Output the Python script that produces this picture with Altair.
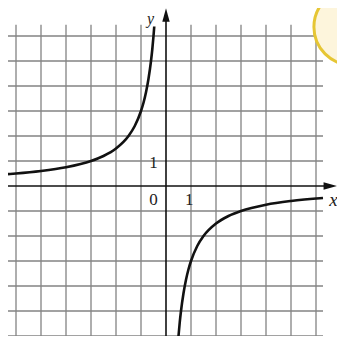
import altair as alt
import pandas as pd

# grid lines (units)
grid_x = [-6, -5, -4, -3, -2, -1, 1, 2, 3, 4, 5, 6]
grid_y = [-6, -5, -4, -3, -2, -1, 1, 2, 3, 4, 5, 6]

# hyperbola branches (y = -3/x)
left_x = [-6.32, -6.0, -5.0, -4.0, -3.0, -2.5, -2.0, -1.5, -1.25, -1.0, -0.9, -0.8, -0.7, -0.6, -0.55, -0.5, -0.47]
left_y = [0.475, 0.5, 0.6, 0.75, 1.0, 1.2, 1.5, 2.0, 2.4, 3.0, 3.33, 3.75, 4.29, 5.0, 5.45, 6.0, 6.38]
right_x = [0.46, 0.5, 0.55, 0.6, 0.7, 0.8, 0.9, 1.0, 1.25, 1.5, 2.0, 2.5, 3.0, 4.0, 5.0, 6.28]
right_y = [-6.52, -6.0, -5.45, -5.0, -4.29, -3.75, -3.33, -3.0, -2.4, -2.0, -1.5, -1.2, -1.0, -0.75, -0.6, -0.478]

labels_text = ["y", "x", "1", "0", "1"]
labels_x = [-0.62, 6.7, -0.5, -0.5, 0.93]
labels_y = [6.5, -0.55, 0.92, -0.55, -0.55]
labels_style = ["italic", "italic", "normal", "normal", "normal"]

XMIN, XMAX = -6.32, 6.84
YMIN, YMAX = -6.0, 7.12

xs = alt.Scale(domain=[XMIN, XMAX], nice=False, zero=False)
ys = alt.Scale(domain=[YMIN, YMAX], nice=False, zero=False)

vgrid = alt.Chart(pd.DataFrame({"x": grid_x, "y": [YMIN] * len(grid_x), "y2": [6.45] * len(grid_x)})).mark_rule(
    color="#838383", strokeWidth=1.3
).encode(x=alt.X("x:Q", scale=xs, axis=None), y=alt.Y("y:Q", scale=ys, axis=None), y2="y2:Q")

hgrid = alt.Chart(pd.DataFrame({"y": grid_y, "x": [XMIN] * len(grid_y), "x2": [6.28] * len(grid_y)})).mark_rule(
    color="#838383", strokeWidth=1.3
).encode(x=alt.X("x:Q", scale=xs, axis=None), x2="x2:Q", y=alt.Y("y:Q", scale=ys, axis=None))

xaxis = alt.Chart(pd.DataFrame({"x": [XMIN], "x2": [6.6], "y": [0]})).mark_rule(
    color="#111111", strokeWidth=1.6
).encode(x=alt.X("x:Q", scale=xs, axis=None), x2="x2:Q", y=alt.Y("y:Q", scale=ys, axis=None))

yaxis = alt.Chart(pd.DataFrame({"y": [YMIN], "y2": [6.8], "x": [0]})).mark_rule(
    color="#111111", strokeWidth=1.6
).encode(x=alt.X("x:Q", scale=xs, axis=None), y=alt.Y("y:Q", scale=ys, axis=None), y2="y2:Q")

xarrow = alt.Chart(pd.DataFrame({"x": [6.57], "y": [0]})).mark_point(
    shape="M-1,-0.55 L1,0 L-1,0.55 Z", filled=True, color="#111111", size=180, opacity=1
).encode(x=alt.X("x:Q", scale=xs, axis=None), y=alt.Y("y:Q", scale=ys, axis=None))

yarrow = alt.Chart(pd.DataFrame({"x": [0], "y": [6.84]})).mark_point(
    shape="M-0.55,1 L0,-1 L0.55,1 Z", filled=True, color="#111111", size=180, opacity=1
).encode(x=alt.X("x:Q", scale=xs, axis=None), y=alt.Y("y:Q", scale=ys, axis=None))

curve_df = pd.concat([
    pd.DataFrame({"x": left_x, "y": left_y, "branch": "left"}),
    pd.DataFrame({"x": right_x, "y": right_y, "branch": "right"}),
])
curve = alt.Chart(curve_df).mark_line(
    color="#111111", strokeWidth=2.6, interpolate="monotone", clip=True
).encode(
    x=alt.X("x:Q", scale=xs, axis=None),
    y=alt.Y("y:Q", scale=ys, axis=None),
    detail="branch:N",
    order="x:Q",
)

lab_df = pd.DataFrame({"t": labels_text, "x": labels_x, "y": labels_y, "s": labels_style})
labels_y_axis = alt.Chart(lab_df[lab_df.t == "y"]).mark_text(
    font="Liberation Serif", fontSize=16, fontStyle="italic", color="#222222", align="center", baseline="alphabetic"
).encode(x=alt.X("x:Q", scale=xs, axis=None), y=alt.Y("y:Q", scale=ys, axis=None), text="t:N")
labels_x_axis = alt.Chart(lab_df[lab_df.t == "x"]).mark_text(
    font="Liberation Serif", fontSize=19, fontStyle="italic", color="#222222", align="center", baseline="middle"
).encode(x=alt.X("x:Q", scale=xs, axis=None), y=alt.Y("y:Q", scale=ys, axis=None), text="t:N")
labels_n = alt.Chart(lab_df[lab_df.s == "normal"]).mark_text(
    font="Liberation Serif", fontSize=17, color="#222222", align="center", baseline="middle"
).encode(x=alt.X("x:Q", scale=xs, axis=None), y=alt.Y("y:Q", scale=ys, axis=None), text="t:N")

badge = alt.Chart(pd.DataFrame({"x": [7.44], "y": [6.36]})).mark_point(
    shape="circle", filled=True, fill="#fdf5dc", stroke="#e6c634", strokeWidth=3, size=5800, opacity=1, fillOpacity=1
).encode(x=alt.X("x:Q", scale=xs, axis=None), y=alt.Y("y:Q", scale=ys, axis=None))

chart = alt.layer(vgrid, hgrid, xaxis, yaxis, curve, xarrow, yarrow, labels_y_axis, labels_x_axis, labels_n, badge).properties(
    width=329, height=328, autosize=alt.AutoSizeParams(type="none"), padding=0, background="white"
).configure_view(stroke=None)

chart.save("out.html", embed_options={"renderer": "svg", "actions": False})
